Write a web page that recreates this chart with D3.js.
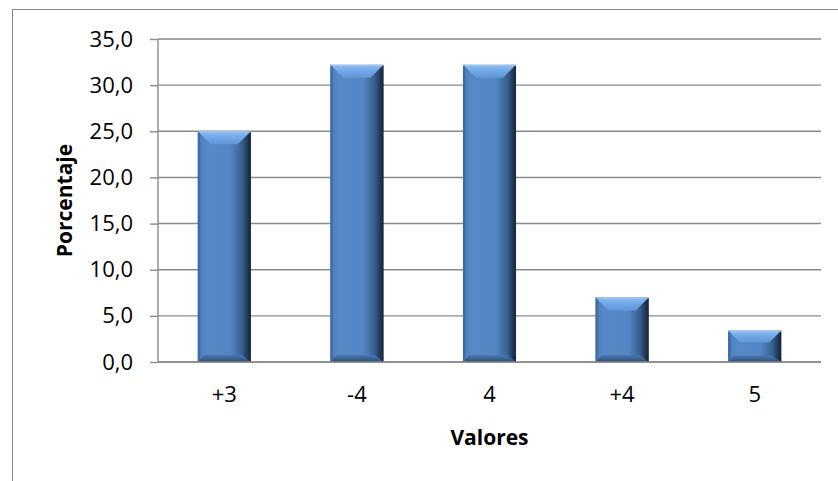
<!DOCTYPE html>
<html>
<head>
<meta charset="utf-8">
<script src="https://cdn.jsdelivr.net/npm/d3@7"></script>
<style>
  html, body { margin: 0; padding: 0; background: #ffffff; }
  svg { display: block; }
  text { font-family: "Open Sans", "Noto Sans", sans-serif; fill: #000; }
</style>
</head>
<body>
<svg id="chart" width="838" height="481"></svg>
<script>
// Distribution of responses by value
const categories = ["+3", "-4", "4", "+4", "5"];
const percentages = [25.0, 32.2, 32.2, 7.0, 3.4];
const yTicks = [0, 5, 10, 15, 20, 25, 30, 35];
const xTitle = "Valores";
const yTitle = "Porcentaje";

const svg = d3.select("#chart");
const W = 838, H = 481;
const plot = { left: 158, right: 821, top: 39, bottom: 362 };

// Outer chart-area frame
svg.append("rect")
  .attr("x", 12.5).attr("y", 9.5)
  .attr("width", W).attr("height", H)
  .attr("fill", "#fff")
  .attr("stroke", "#868686").attr("stroke-width", 1);

const x = d3.scaleBand()
  .domain(categories)
  .range([plot.left, plot.right])
  .paddingInner(0.6)
  .paddingOuter(0.3);

const y = d3.scaleLinear()
  .domain([0, 35])
  .range([plot.bottom, plot.top]);

const fmt = v => d3.format(".1f")(v).replace(".", ",");

// Gradients for the bevelled bar look
const defs = svg.append("defs");
const body = defs.append("linearGradient").attr("id", "barBody")
  .attr("x1", "0%").attr("x2", "100%").attr("y1", "0%").attr("y2", "0%");
[[0, "#3b659c"], [0.06, "#4f80bf"], [0.15, "#5789c9"], [0.62, "#5485c4"],
 [0.8, "#3d6699"], [0.93, "#24405f"], [1, "#172a40"]]
  .forEach(([o, c]) => body.append("stop").attr("offset", o).attr("stop-color", c));

const topG = defs.append("linearGradient").attr("id", "barTop")
  .attr("x1", "0%").attr("x2", "0%").attr("y1", "0%").attr("y2", "100%");
[[0, "#8ec0f4"], [0.4, "#76aae8"], [1, "#5f95d8"]]
  .forEach(([o, c]) => topG.append("stop").attr("offset", o).attr("stop-color", c));

const botG = defs.append("linearGradient").attr("id", "barBottom")
  .attr("x1", "0%").attr("x2", "0%").attr("y1", "0%").attr("y2", "100%");
[[0, "#4a78b0"], [0.7, "#355b8c"], [1, "#22406a"]]
  .forEach(([o, c]) => botG.append("stop").attr("offset", o).attr("stop-color", c));

const sideR = defs.append("linearGradient").attr("id", "barRight")
  .attr("x1", "0%").attr("x2", "100%").attr("y1", "0%").attr("y2", "0%");
[[0, "#3a6294"], [0.6, "#22395a"], [1, "#13233a"]]
  .forEach(([o, c]) => sideR.append("stop").attr("offset", o).attr("stop-color", c));

// Gridlines and y-axis ticks
const yAxis = d3.axisLeft(y)
  .tickValues(yTicks)
  .tickSize(8)
  .tickPadding(17)
  .tickFormat(fmt);

svg.append("g")
  .attr("class", "grid")
  .selectAll("line")
  .data(yTicks)
  .join("line")
  .attr("x1", plot.left).attr("x2", plot.right)
  .attr("y1", d => y(d)).attr("y2", d => y(d))
  .attr("stroke", "#8a8a8a").attr("stroke-width", 1.4);

const gy = svg.append("g")
  .attr("transform", `translate(${plot.left},0)`)
  .call(yAxis);
gy.select(".domain").attr("stroke", "#8a8a8a").attr("stroke-width", 1.4)
  .attr("d", `M0,${plot.top}V${plot.bottom}`);
gy.selectAll(".tick line").attr("stroke", "#8a8a8a").attr("stroke-width", 1.4);
gy.selectAll(".tick text").attr("font-size", 22).style("font-family", "'Open Sans', sans-serif").attr("fill", "#000");

// Bars with bevel facets
const bw = x.bandwidth();
const bars = svg.append("g").selectAll("g.bar")
  .data(categories.map((c, i) => ({ c, v: percentages[i] })))
  .join("g").attr("class", "bar");

bars.each(function (d) {
  const g = d3.select(this);
  const x0 = x(d.c), x1 = x0 + bw;
  const yt = y(d.v), yb = y(0);
  const h = yb - yt;
  const bt = Math.min(13, h * 0.38);
  const bb = Math.min(7, h * 0.2);
  const side = 9;

  g.append("rect")
    .attr("x", x0).attr("y", yt).attr("width", bw).attr("height", h)
    .attr("fill", "url(#barBody)");
  // right shaded side
  g.append("polygon")
    .attr("points", [[x1 - side, yt + bt], [x1, yt], [x1, yb], [x1 - side, yb - bb]].join(" "))
    .attr("fill", "url(#barRight)").attr("opacity", 0.85);
  // bottom facet
  g.append("polygon")
    .attr("points", [[x0, yb], [x1, yb], [x1 - side, yb - bb], [x0 + side * 0.7, yb - bb]].join(" "))
    .attr("fill", "url(#barBottom)");
  // top facet
  g.append("polygon")
    .attr("points", [[x0, yt], [x1, yt], [x1 - bt, yt + bt], [x0 + bt, yt + bt]].join(" "))
    .attr("fill", "url(#barTop)");
  // thin left edge
  g.append("rect")
    .attr("x", x0).attr("y", yt).attr("width", 2).attr("height", h)
    .attr("fill", "#3f6aa2").attr("opacity", 0.8);
  // soft light rim along the top edge
  g.append("line")
    .attr("x1", x0).attr("x2", x1).attr("y1", yt + 0.5).attr("y2", yt + 0.5)
    .attr("stroke", "#a9c8ec").attr("stroke-width", 1);
});

// X axis line and category labels
const xAxis = d3.axisBottom(x).tickSize(0).tickPadding(24);
const gx = svg.append("g")
  .attr("transform", `translate(0,${plot.bottom})`)
  .call(xAxis);
gx.select(".domain").attr("stroke", "#8a8a8a").attr("stroke-width", 1.4)
  .attr("d", `M${plot.left},0H${plot.right}`);
gx.selectAll(".tick text").attr("font-size", 22).style("font-family", "'Open Sans', sans-serif").attr("fill", "#000");

// Axis titles
svg.append("text")
  .attr("x", (plot.left + plot.right) / 2).attr("y", 445)
  .attr("text-anchor", "middle")
  .attr("font-size", 21).attr("font-weight", "bold")
  .text(xTitle);

svg.append("text")
  .attr("transform", `translate(72,${(plot.top + plot.bottom) / 2}) rotate(-90)`)
  .attr("text-anchor", "middle")
  .attr("font-size", 21).attr("font-weight", "bold")
  .text(yTitle);
</script>
</body>
</html>
